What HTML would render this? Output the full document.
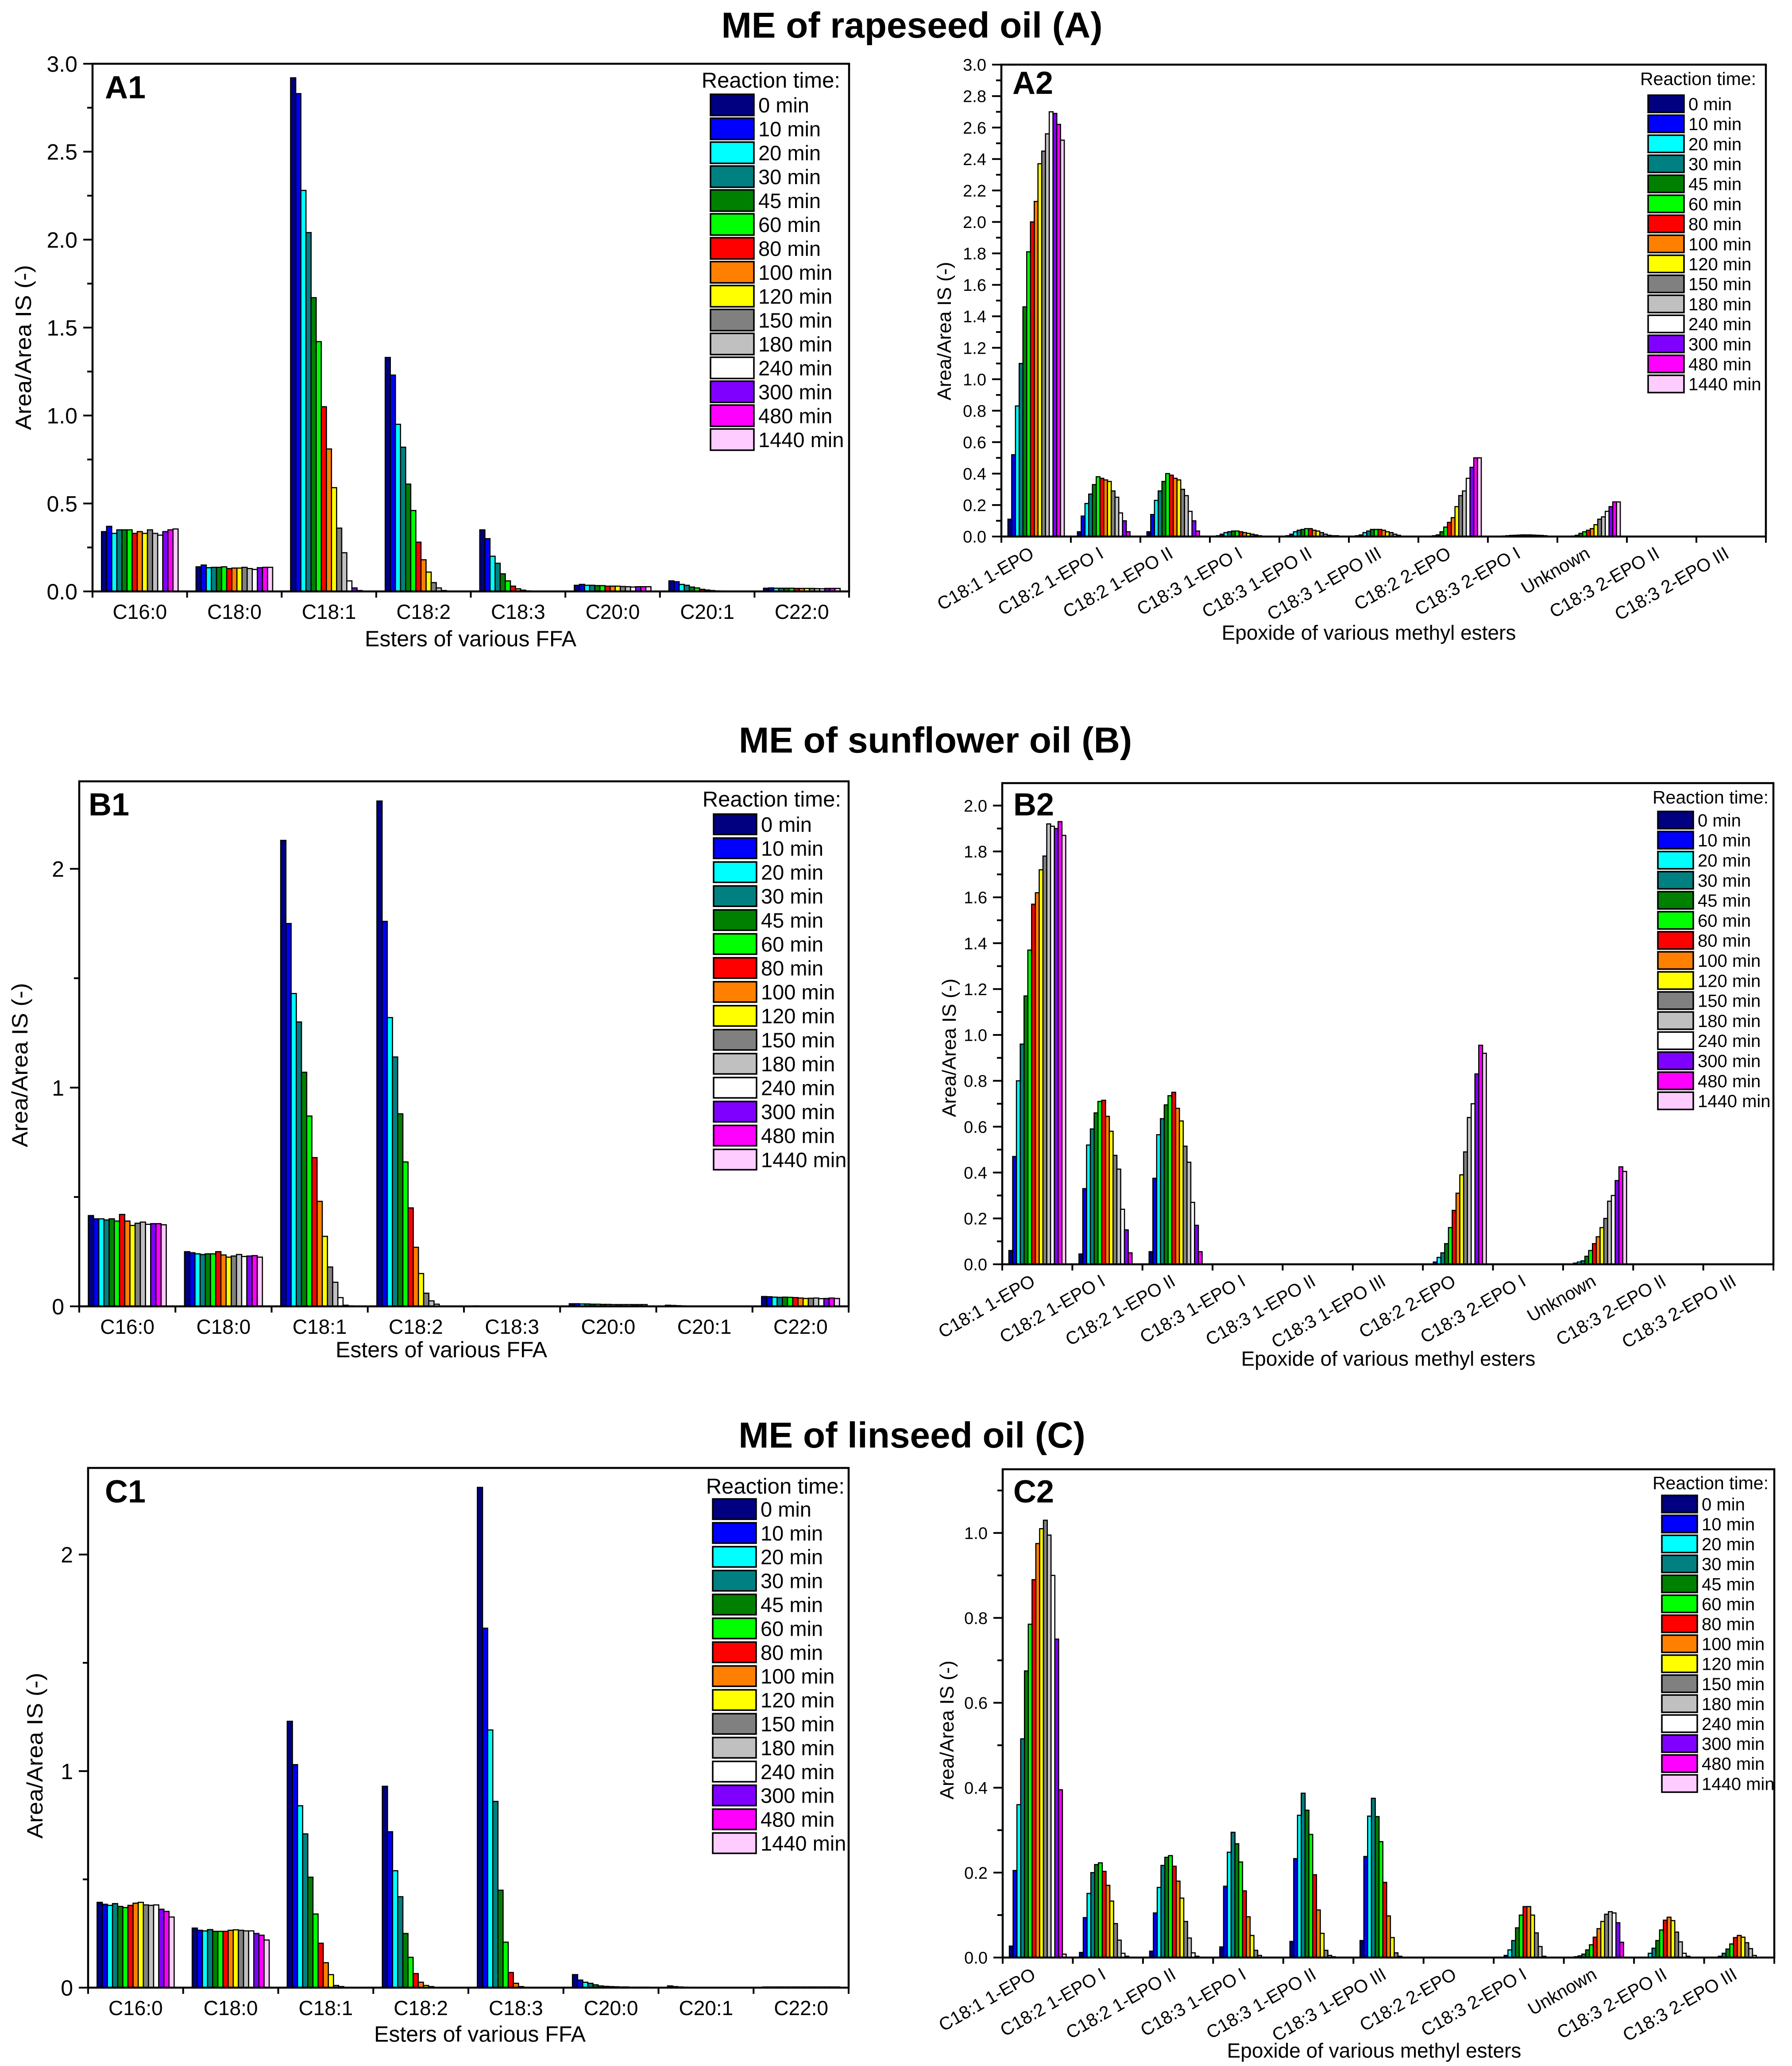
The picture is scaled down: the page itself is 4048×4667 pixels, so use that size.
<!DOCTYPE html>
<html><head><meta charset="utf-8"><title>ME epoxidation charts</title>
<style>html,body{margin:0;padding:0;background:#fff}svg{display:block}text{font-family:"Liberation Sans",Arial,sans-serif;fill:#000}</style>
</head><body>
<svg id="fig" xmlns="http://www.w3.org/2000/svg" width="4048" height="4667" viewBox="0 0 4048 4667">
<rect x="0" y="0" width="4048" height="4667" fill="#fff"/>
<text x="2060" y="85" font-size="82" font-weight="bold" text-anchor="middle">ME of rapeseed oil (A)</text>
<text x="2113" y="1700" font-size="82" font-weight="bold" text-anchor="middle">ME of sunflower oil (B)</text>
<text x="2060" y="3270" font-size="82" font-weight="bold" text-anchor="middle">ME of linseed oil (C)</text>
</svg>
<script>
const timeLabels=["0 min","10 min","20 min","30 min","45 min","60 min","80 min","100 min","120 min","150 min","180 min","240 min","300 min","480 min","1440 min"];
const colors=["#000080","#0000ff","#00ffff","#008080","#008000","#00ff00","#ff0000","#ff8000","#ffff00","#808080","#c0c0c0","#ffffff","#8000ff","#ff00ff","#ffccff"];
const ffaCategories=["C16:0","C18:0","C18:1","C18:2","C18:3","C20:0","C20:1","C22:0"];
const epoCategories=["C18:1 1-EPO","C18:2 1-EPO I","C18:2 1-EPO II","C18:3 1-EPO I","C18:3 1-EPO II","C18:3 1-EPO III","C18:2 2-EPO","C18:3 2-EPO I","Unknown","C18:3 2-EPO II","C18:3 2-EPO III"];
const Z=[0,0,0,0,0,0,0,0,0,0,0,0,0,0,0];
const a1Values=[
[.34,.37,.33,.35,.35,.35,.33,.34,.33,.35,.33,.32,.34,.35,.355],
[.14,.15,.135,.137,.137,.14,.13,.133,.133,.137,.13,.125,.135,.137,.137],
[2.92,2.83,2.28,2.04,1.67,1.42,1.05,0.81,0.59,0.36,0.22,0.06,0.02,0.005,0],
[1.33,1.23,0.95,0.82,0.61,0.46,0.28,0.18,0.11,0.05,0.02,0.005,0,0,0],
[0.35,0.30,0.20,0.16,0.10,0.06,0.03,0.015,0.007,0.003,0,0,0,0,0],
[.035,.04,.035,.035,.033,.033,.03,.03,.03,.028,.027,.025,.027,.027,.027],
[.06,.055,.04,.035,.025,.02,.012,.008,.005,.003,.002,0,0,0,0],
[.018,.02,.018,.018,.018,.018,.017,.017,.017,.017,.016,.015,.017,.017,.017]];
const a2Values=[
[0.11,0.52,0.83,1.10,1.46,1.81,2.00,2.13,2.37,2.45,2.56,2.70,2.69,2.62,2.52],
[0.03,0.13,0.21,0.27,0.33,0.38,0.37,0.36,0.35,0.29,0.25,0.15,0.10,0.03,0],
[0.03,0.14,0.23,0.29,0.35,0.40,0.39,0.37,0.36,0.30,0.26,0.16,0.10,0.035,0],
[0.005,0.015,0.025,0.03,0.035,0.035,0.03,0.025,0.02,0.015,0.01,0.005,0,0,0],
[0.005,0.015,0.03,0.04,0.045,0.05,0.05,0.04,0.035,0.025,0.015,0.008,0.005,0.005,0],
[0.005,0.01,0.025,0.035,0.045,0.045,0.045,0.04,0.03,0.025,0.015,0.008,0,0,0],
[0,0,0.005,0.01,0.03,0.06,0.09,0.12,0.19,0.26,0.29,0.37,0.44,0.50,0.50],
[0,0,0.003,0.005,0.007,0.008,0.009,0.01,0.01,0.01,0.009,0.008,0.007,0.005,0],
[0,0,0.003,0.008,0.02,0.03,0.04,0.05,0.075,0.11,0.125,0.16,0.19,0.22,0.22],
Z,Z];
const b1Values=[
[.415,.40,.40,.395,.40,.39,.42,.39,.37,.38,.385,.375,.378,.378,.373],
[.25,.245,.24,.237,.24,.24,.25,.235,.225,.23,.237,.228,.23,.232,.225],
[2.13,1.75,1.43,1.30,1.07,0.87,0.68,0.48,0.32,0.18,0.11,0.04,0.005,0.002,0],
[2.31,1.76,1.32,1.14,0.88,0.66,0.45,0.27,0.15,0.06,0.025,0.01,0,0,0],
[0.002,0,0,0,0,0,0,0,0,0,0,0,0,0,0],
[.012,.012,.011,.011,.01,.01,.009,.009,.008,.008,.008,.008,.008,.008,.008],
[.005,.004,.003,.002,.001,0,0,0,0,0,0,0,0,0,0],
[.045,.044,.042,.041,.042,.041,.04,.038,.036,.037,.038,.035,.036,.038,.036]];
const b2Values=[
[.06,.47,.80,.96,1.17,1.37,1.57,1.62,1.72,1.78,1.92,1.91,1.90,1.93,1.87],
[.045,.33,.52,.59,.66,.71,.715,.645,.58,.475,.415,.24,.15,.05,0],
[.055,.375,.565,.635,.695,.735,.75,.68,.625,.515,.445,.27,.17,.055,0],
Z,Z,Z,
[0,.01,.03,.05,.09,.16,.235,.31,.39,.49,.64,.70,.83,.955,.92],
Z,
[0,.005,.01,.015,.035,.06,.09,.12,.16,.2,.275,.3,.365,.425,.405],
Z,Z];
const c1Values=[
[.394,.385,.38,.388,.375,.37,.38,.39,.394,.382,.38,.382,.362,.352,.326],
[.275,.265,.262,.268,.26,.26,.26,.265,.267,.265,.262,.262,.25,.242,.22],
[1.23,1.03,.84,.71,.51,.34,.205,.115,.06,.01,.005,0,0,0,0],
[.93,.72,.54,.42,.25,.14,.065,.025,.01,.005,0,0,0,0,0],
[2.31,1.66,1.19,.86,.45,.21,.07,.02,.005,0,0,0,0,0,0],
[.06,.035,.025,.02,.013,.008,.006,.005,.004,.003,.003,.002,.002,.002,.002],
[.008,.005,.003,.002,.001,0,0,0,0,0,0,0,0,0,0],
[.003,.003,.003,.003,.003,.003,.003,.003,.003,.003,.003,.003,.003,.003,.003]];
const c2Values=[
[.027,.205,.36,.515,.675,.785,.89,.975,1.01,1.03,.995,.90,.75,.395,.008],
[.012,.094,.151,.2,.219,.223,.203,.17,.133,.08,.041,.01,.003,0,0],
[.015,.105,.165,.217,.236,.24,.215,.18,.14,.085,.046,.011,.003,0,0],
[.025,.168,.248,.295,.268,.225,.157,.096,.052,.017,.005,0,0,0,0],
[.038,.233,.335,.387,.347,.29,.195,.112,.057,.017,.005,.002,0,0,0],
[.04,.238,.333,.375,.332,.273,.177,.098,.047,.011,.003,0,0,0,0],
Z,
[0,.005,.018,.04,.07,.1,.12,.12,.1,.058,.026,.003,0,0,0],
[0,.002,.004,.008,.018,.03,.048,.068,.085,.102,.108,.105,.082,.036,0],
[0,0,.01,.022,.04,.065,.088,.095,.087,.06,.037,.01,.003,0,0],
[0,0,.003,.01,.02,.032,.047,.052,.048,.035,.021,.005,0,0,0]];
const a1Ticks=["0.0","0.5","1.0","1.5","2.0","2.5","3.0"];
const epoTicks3=["0.0","0.2","0.4","0.6","0.8","1.0","1.2","1.4","1.6","1.8","2.0","2.2","2.4","2.6","2.8","3.0"];
const intTicks=["0","1","2"];
const b2Ticks=["0.0","0.2","0.4","0.6","0.8","1.0","1.2","1.4","1.6","1.8","2.0"];
const c2Ticks=["0.0","0.2","0.4","0.6","0.8","1.0"];

const NS="http://www.w3.org/2000/svg";
const svg=document.getElementById('fig');
function el(tag,attrs,parent){const e=document.createElementNS(NS,tag);for(const k in attrs)e.setAttribute(k,attrs[k]);(parent||svg).appendChild(e);return e;}
function txt(g,x,y,s,size,anchor,extra){const t=el('text',Object.assign({x:x,y:y,'font-size':size,'text-anchor':anchor||'start'},extra||{}),g);t.textContent=s;return t;}

const panels=[
{id:'a1',label:'A1',x0:209,x1:1918,y0:144,y1:1336,ymax:3.0,major:0.5,minor:0.25,ticks:a1Ticks,cats:ffaCategories,vals:a1Values,rot:false,tfs:50,
 xt:'Esters of various FFA',xtx:1063,xty:1460,ytx:70,yty:785,ytl:373,lg:{tr:1898,ty:198,sx:1605,sw:98,st:213,sh:48,step:54,fs:47,tfs:49},plx:237,ply:222},
{id:'a2',label:'A2',x0:2262,x1:3989,y0:146,y1:1212,ymax:3.0,major:0.2,minor:0.1,ticks:epoTicks3,cats:epoCategories,vals:a2Values,rot:true,tfs:38,
 xt:'Epoxide of various methyl esters',xtx:3092,xty:1445,ytx:2148,yty:748,ytl:313,lg:{tr:3967,ty:192,sx:3723,sw:81,st:215,sh:39,step:45.2,fs:40,tfs:41},plx:2287,ply:212},
{id:'b1',label:'B1',x0:179,x1:1917,y0:1765,y1:2951,ymax:2.4,major:1,minor:0.5,ticks:intTicks,cats:ffaCategories,vals:b1Values,rot:false,tfs:50,
 xt:'Esters of various FFA',xtx:997,xty:3066,ytx:62,yty:2406,ytl:371,lg:{tr:1900,ty:1822,sx:1612,sw:97,st:1839,sh:46,step:54.1,fs:47,tfs:49},plx:200,ply:1842},
{id:'b2',label:'B2',x0:2264,x1:4006,y0:1769,y1:2856,ymax:2.098,major:0.2,minor:0.1,ticks:b2Ticks,cats:epoCategories,vals:b2Values,rot:true,tfs:38,
 xt:'Epoxide of various methyl esters',xtx:3136,xty:3085,ytx:2159,yty:2367,ytl:313,lg:{tr:3995,ty:1815,sx:3745,sw:80,st:1833,sh:39,step:45.3,fs:40,tfs:41},plx:2289,ply:1842},
{id:'c1',label:'C1',x0:199,x1:1917,y0:3316,y1:4490,ymax:2.4,major:1,minor:0.5,ticks:intTicks,cats:ffaCategories,vals:c1Values,rot:false,tfs:50,
 xt:'Esters of various FFA',xtx:1084,xty:4612,ytx:96,yty:3966,ytl:375,lg:{tr:1908,ty:3374,sx:1610,sw:98,st:3386,sh:46,step:53.9,fs:47,tfs:49},plx:237,ply:3394},
{id:'c2',label:'C2',x0:2265,x1:4008,y0:3319,y1:4422,ymax:1.15,major:0.2,minor:0.1,ticks:c2Ticks,cats:epoCategories,vals:c2Values,rot:true,tfs:38,
 xt:'Epoxide of various methyl esters',xtx:3104,xty:4648,ytx:2154,yty:3908,ytl:314,lg:{tr:3995,ty:3364,sx:3754,sw:80,st:3378,sh:39,step:45.1,fs:40,tfs:41},plx:2289,ply:3394}
];

panels.forEach(p=>{
  const g=el('g',{});
  
  
  const yS=v=>p.y1-(v/p.ymax)*(p.y1-p.y0);
  const n=p.cats.length, cw=(p.x1-p.x0)/n, gw=cw*0.81, bw=gw/15;
  p.vals.forEach((arr,ci)=>{
    const bg=el('g',{},g);
    
    
    arr.forEach((v,si)=>{
      if(v<=0) return;
      const x=p.x0+ci*cw+(cw-gw)/2+si*bw, y=yS(v);
      const r=el('rect',{x:x.toFixed(1),y:y.toFixed(1),width:bw.toFixed(1),height:Math.max(0,p.y1-y).toFixed(1),fill:colors[si],stroke:'#000','stroke-width':2.6},bg);
      
      
    });
  });
  const fr=el('rect',{x:p.x0,y:p.y0,width:p.x1-p.x0,height:p.y1-p.y0,fill:'none',stroke:'#000','stroke-width':4.5},g);
  
  
  const nMin=Math.floor(p.ymax/p.minor+1e-6);
  for(let i=0;i<=nMin;i++){
    const v=i*p.minor, y=yS(v), isMaj=Math.abs(v/p.major-Math.round(v/p.major))<1e-6;
    el('line',{x1:p.x0,x2:p.x0-(isMaj?21:12),y1:y,y2:y,stroke:'#000','stroke-width':4},g);
  }
  p.ticks.forEach((s,i)=>{
    const t=txt(g,p.x0-34,yS(i*p.major)+p.tfs*0.36,s,p.tfs,'end');
    
    
  });
  for(let i=0;i<=n;i++){const x=p.x0+i*cw;el('line',{x1:x,x2:x,y1:p.y1,y2:p.y1+14,stroke:'#000','stroke-width':4},g);}
  p.cats.forEach((c,i)=>{
    const cx=p.x0+(i+0.5)*cw;
    let t;
    if(p.rot){t=txt(g,0,0,c,41,'end',{transform:'translate('+(cx-2)+','+(p.y1+46)+') rotate(-30)'});}
    else{t=txt(g,cx,p.y1+62,c,46,'middle');}
    
    
  });
  const xt=txt(g,p.xtx,p.xty,p.xt,p.rot?46:50,'middle');
  
  
  const yt=txt(g,0,0,'Area/Area IS (-)',p.rot?44:50,'middle',{transform:'translate('+p.ytx+','+p.yty+') rotate(-90)',textLength:p.ytl,lengthAdjust:'spacingAndGlyphs'});
  
  
  const pl=txt(g,p.plx,p.ply,p.label,72,'start',{'font-weight':'bold'});
  
  
  const L=p.lg;
  const lg=el('g',{},g);
  
  
  const lt=txt(lg,L.tr,L.ty,'Reaction time:',L.tfs,'end');
  
  
  timeLabels.forEach((s,i)=>{
    const y=L.st+i*L.step;
    const e=el('g',{},lg);
    
    
    el('rect',{x:L.sx,y:y,width:L.sw,height:L.sh,fill:colors[i],stroke:'#000','stroke-width':3.5},e);
    txt(e,L.sx+L.sw+10,y+L.sh/2+L.fs*0.36,s,L.fs,'start');
  });
});
</script>
</body></html>
